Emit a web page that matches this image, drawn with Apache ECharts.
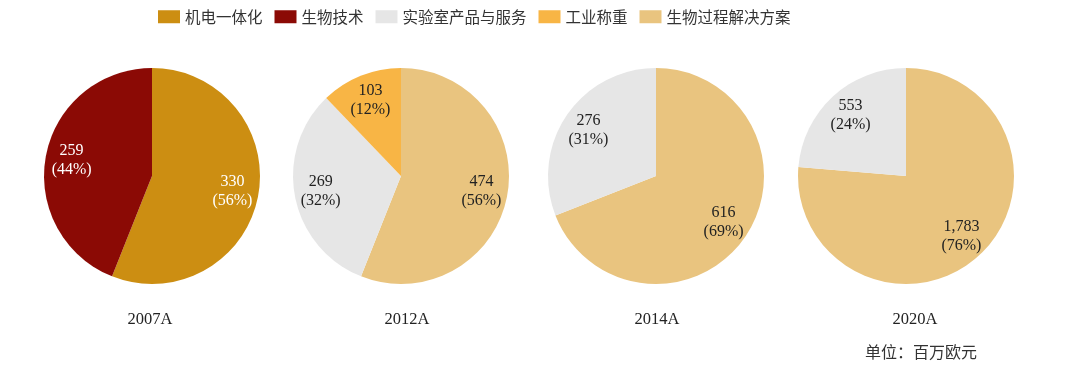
<!DOCTYPE html>
<html><head><meta charset="utf-8">
<script src="https://cdn.jsdelivr.net/npm/echarts@6/dist/echarts.min.js"></script>
<style>html,body{margin:0;padding:0;background:#fff}#c{width:1080px;height:365px}</style>
</head><body><div id="c"></div>
<script>
const categories = ['机电一体化','生物技术','实验室产品与服务','工业称重','生物过程解决方案'];
const years = ['2007A','2012A','2014A','2020A'];
// values per year, in clockwise order from 12 o'clock (百万欧元)
const names2007 = ['机电一体化','生物技术'];
const values2007 = [330, 259];
const names2012 = ['生物过程解决方案','实验室产品与服务','工业称重'];
const values2012 = [474, 269, 103];
const names2014 = ['生物过程解决方案','实验室产品与服务'];
const values2014 = [616, 276];
const names2020 = ['生物过程解决方案','实验室产品与服务'];
const values2020 = [1783, 553];
const unitText = '单位：百万欧元';

const colors = {'机电一体化':'#CC8E12','生物技术':'#8B0A05','实验室产品与服务':'#E6E6E6','工业称重':'#F8B545','生物过程解决方案':'#E9C47F'};
const centers = [[152,176],[401,176],[656,176],[906,176]];
const yearX = [145,402,652,910];
const R = 108;
const labelColors = ['#ffffff','#222222','#222222','#222222'];
const groups = [[names2007,values2007],[names2012,values2012],[names2014,values2014],[names2020,values2020]];

const series = [];
groups.forEach((g,i)=>{
  const data = g[0].map((n,j)=>({name:n,value:g[1][j],itemStyle:{color:colors[n]}}));
  series.push({type:'pie',center:centers[i],radius:[0,R],startAngle:90,clockwise:true,
    label:{show:false},labelLine:{show:false},emphasis:{disabled:true},silent:true,
    percentPrecision:0,data:data});
  series.push({type:'pie',center:centers[i],radius:[R*0.46,R],startAngle:90,clockwise:true,
    itemStyle:{color:'transparent'},labelLine:{show:false},emphasis:{disabled:true},silent:true,
    legendHoverLink:false,percentPrecision:0,
    label:{show:true,position:'inside',color:labelColors[i],fontFamily:'Liberation Serif',fontSize:16,lineHeight:19,
      formatter:p=>p.value.toLocaleString('en-US')+'\n('+p.percent+'%)'},
    data:g[0].map((n,j)=>({name:n+' ',value:g[1][j]}))});
});

const titles = years.map((y,i)=>({text:y,left:yearX[i],top:306,textAlign:'center',
  textStyle:{fontFamily:'Liberation Serif',fontSize:16.5,fontWeight:'normal',color:'#222'}}));
titles.push({text:unitText,left:860,top:339,textStyle:{fontFamily:'Noto Sans CJK SC',fontSize:16,fontWeight:'normal',color:'#333'}});

const chart = echarts.init(document.getElementById('c'));
chart.setOption({
  animation:false,
  backgroundColor:'#fff',
  title:titles,
  legend:{data:categories,left:153,top:4,icon:'rect',itemWidth:22,itemHeight:13,itemGap:12,
    textStyle:{fontFamily:'Noto Sans CJK SC',fontSize:15.5,color:'#333'},
    selectedMode:false},
  series:series
});
</script></body></html>
